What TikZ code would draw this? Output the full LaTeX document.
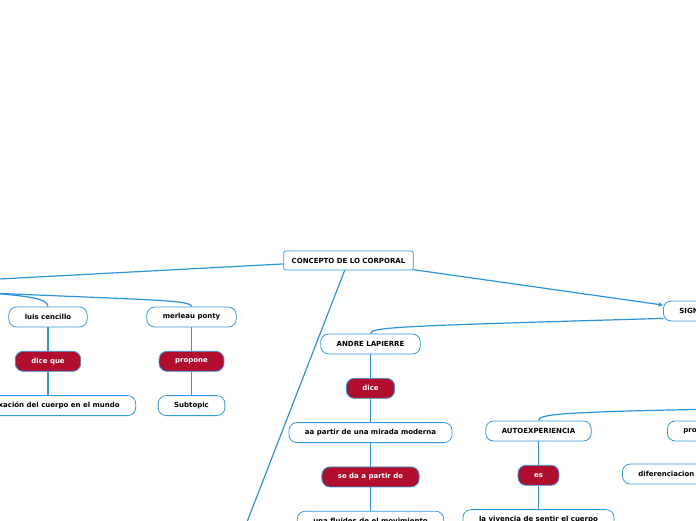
\documentclass[tikz,border=0pt]{standalone}
\usepackage{fontspec}
\setmainfont{DejaVu Sans}
\usetikzlibrary{positioning}
\definecolor{mapblue}{HTML}{3399DD}
\definecolor{mapred}{HTML}{B10D2C}
\definecolor{maplink}{HTML}{2A93DB}

\begin{document}
\begin{tikzpicture}[
        x=1pt, y=-1pt,
        node distance=23.5pt,
        topic/.style={rectangle, draw=mapblue, line width=0.8pt, rounded corners=8pt, fill=white, minimum height=20pt, inner xsep=16pt, inner ysep=2pt, font=\fontsize{7}{8}\selectfont\bfseries, text=black},
        verb/.style={topic, fill=mapred, text=white},
        root/.style={topic, rounded corners=2pt, inner xsep=8pt, minimum height=19pt},
        link/.style={draw=maplink, line width=1.2pt},
        arrow/.style={link, ->, >=stealth}
    ]
        \useasboundingbox (0,0) rectangle (696,520);
        \clip (0,0) rectangle (696,520);

        % Central topic
        \node[root] (concepto) at (348.5,260.5) {CONCEPTO DE LO CORPORAL};
        \node[topic, anchor=west] (signi) at (663,311) {SIGNIFICADO};

        % Free ends outside the frame
        \coordinate (lft) at (-20,280);
        \coordinate (dn) at (240,540);
        \coordinate (lpar) at (-10,293);
        \coordinate (rpar) at (720,409);

        % Left branch
        \node[topic] (luis) at (48,317) {luis cencillo};
        \node[verb, below=of luis] (dicelc) {dice que};
        \node[topic, below=of dicelc] (fixacion) {una fixación del cuerpo en el mundo};
        \node[topic] (merleau) at (191.5,317) {merleau ponty};
        \node[verb, below=of merleau] (propmp) {propone};
        \node[topic, below=of propmp] (subtopic) {Subtopic};

        % Andre Lapierre
        \node[topic] (andre) at (370.5,344) {ANDRE LAPIERRE};
        \node[verb, below=of andre] (dice) {dice};
        \node[topic, below=of dice] (mirada) {aa partir de una mirada moderna};
        \node[verb, below=of mirada] (seda) {se da a partir de};
        \node[topic, below=of seda] (fluides) {una fluides de el movimiento};

        % Autoexperiencia
        \node[topic] (auto) at (538.5,431) {AUTOEXPERIENCIA};
        \node[verb, below=of auto] (es) {es};
        \node[topic, below=of es] (vivencia) {la vivencia de sentir el cuerpo};

        % Right edge
        \node[topic, anchor=west] (pro) at (667,431) {propone};
        \node[topic, anchor=west] (difer) at (622,474) {diferenciacion};

        % Connectors
        \draw[link] (concepto) -- (lft);
        \draw[link] (concepto) -- (dn);
        \draw[arrow] (concepto) -- (signi);
        \draw[link] (lpar) .. controls (25,296) and (48,298) .. (luis.north);
        \draw[link] (lpar) .. controls (150,300) and (192,300) .. (merleau.north);
        \draw[link] ([yshift=3pt]signi.south west) .. controls (400,326) and (370,327) .. (andre.north);
        \draw[link] (rpar) .. controls (560,412) and (539,414) .. (auto.north);
        \foreach \a/\b in {luis/dicelc, dicelc/fixacion, merleau/propmp, propmp/subtopic, andre/dice, dice/mirada, mirada/seda, seda/fluides, auto/es, es/vivencia}
            \draw[link] (\a) -- (\b);
    \end{tikzpicture}
\end{document}
